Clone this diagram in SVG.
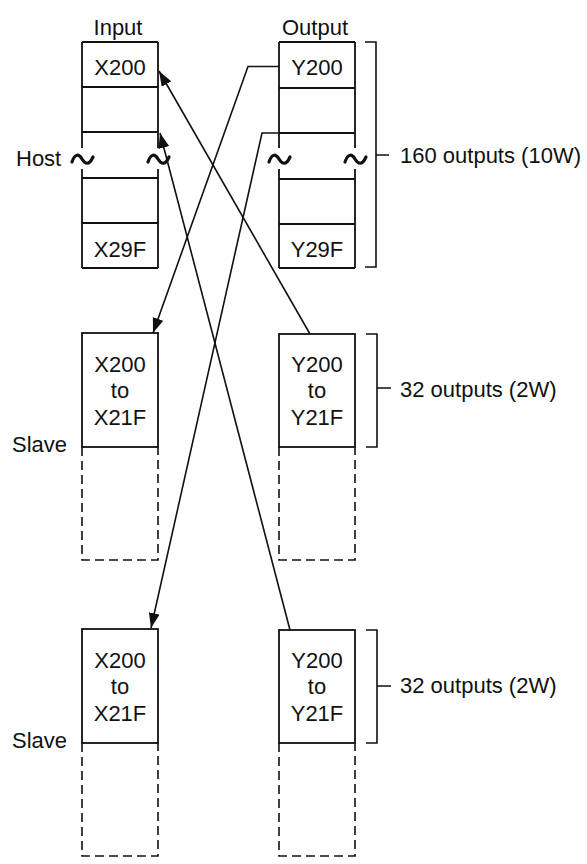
<svg xmlns="http://www.w3.org/2000/svg" width="587" height="864" viewBox="0 0 587 864">
<style>
text{font-family:"Liberation Sans",Arial,sans-serif;font-size:22px;fill:#111}
.c{text-anchor:middle}
.box{fill:none;stroke:#111;stroke-width:1.8}
.ln{fill:none;stroke:#111;stroke-width:1.6}
.dash{fill:none;stroke:#111;stroke-width:1.6;stroke-dasharray:9 5}
.tl{fill:none;stroke:#111;stroke-width:3.2;stroke-linecap:round}
</style>
<defs>
<marker id="ah" markerUnits="userSpaceOnUse" markerWidth="16" markerHeight="12" refX="15" refY="5.5" orient="auto">
<path d="M0,0 L15,5.5 L0,11 Z" fill="#111"/>
</marker>
</defs>

<g id="labels">
<text class="c" x="118" y="35">Input</text>
<text class="c" x="315" y="35">Output</text>
<text x="16" y="166">Host</text>
<text x="12" y="452">Slave</text>
<text x="12" y="748">Slave</text>
</g>

<g id="host-input">
<path class="box" d="M82,42 H158 M82,87 H158 M82,132 H158 M82,178 H158 M82,223 H158 M82,268 H158"/>
<path class="box" d="M82,42 V148 M82,169 V268 M158,42 V148 M158,169 V268"/>
<path class="tl" d="M72,162 C75,153 79,154 82,159 C85,164 89,166 93,157"/>
<path class="tl" d="M148,162 C151,153 155,154 158,159 C161,164 165,166 169,157"/>
<text class="c" x="120" y="75">X200</text>
<text class="c" x="120" y="257">X29F</text>
</g>

<g id="host-output">
<path class="box" d="M279,42 H355 M279,88 H355 M279,133 H355 M279,179 H355 M279,224 H355 M279,268 H355"/>
<path class="box" d="M279,42 V148 M279,169 V268 M355,42 V148 M355,169 V268"/>
<path class="tl" d="M269,162 C272,153 276,154 279,159 C282,164 286,166 290,157"/>
<path class="tl" d="M345,162 C348,153 352,154 355,159 C358,164 362,166 366,157"/>
<text class="c" x="317" y="75">Y200</text>
<text class="c" x="317" y="257">Y29F</text>
</g>

<g id="host-bracket">
<path class="ln" d="M365,42 H376 V267 H365 M376,155 H389"/>
<text x="400" y="163">160 outputs (10W)</text>
</g>

<g id="slave1-input">
<rect class="box" x="82" y="333" width="76" height="114"/>
<path class="dash" d="M82,447 V560 H158 V447"/>
<text class="c" x="120" y="372">X200</text>
<text class="c" x="120" y="398">to</text>
<text class="c" x="120" y="425">X21F</text>
</g>

<g id="slave1-output">
<rect class="box" x="279" y="334" width="76" height="113"/>
<path class="dash" d="M279,447 V560 H355 V447"/>
<text class="c" x="317" y="372">Y200</text>
<text class="c" x="317" y="398">to</text>
<text class="c" x="317" y="425">Y21F</text>
</g>

<g id="slave1-bracket">
<path class="ln" d="M366,334 H377 V447 H366 M377,388 H391"/>
<text x="400" y="397">32 outputs (2W)</text>
</g>

<g id="slave2-input">
<rect class="box" x="82" y="629" width="76" height="114"/>
<path class="dash" d="M82,743 V856 H158 V743"/>
<text class="c" x="120" y="668">X200</text>
<text class="c" x="120" y="694">to</text>
<text class="c" x="120" y="721">X21F</text>
</g>

<g id="slave2-output">
<rect class="box" x="279" y="630" width="76" height="113"/>
<path class="dash" d="M279,743 V856 H355 V743"/>
<text class="c" x="317" y="668">Y200</text>
<text class="c" x="317" y="694">to</text>
<text class="c" x="317" y="721">Y21F</text>
</g>

<g id="slave2-bracket">
<path class="ln" d="M366,630 H377 V743 H366 M377,686 H391"/>
<text x="400" y="693">32 outputs (2W)</text>
</g>

<g id="connectors">
<path class="ln" d="M279,66.5 H248 L153,333" marker-end="url(#ah)"/>
<path class="ln" d="M279,133 H262 L151,628" marker-end="url(#ah)"/>
<path class="ln" d="M310,334 L159,71" marker-end="url(#ah)"/>
<path class="ln" d="M290,630 L160,133" marker-end="url(#ah)"/>
</g>
</svg>
